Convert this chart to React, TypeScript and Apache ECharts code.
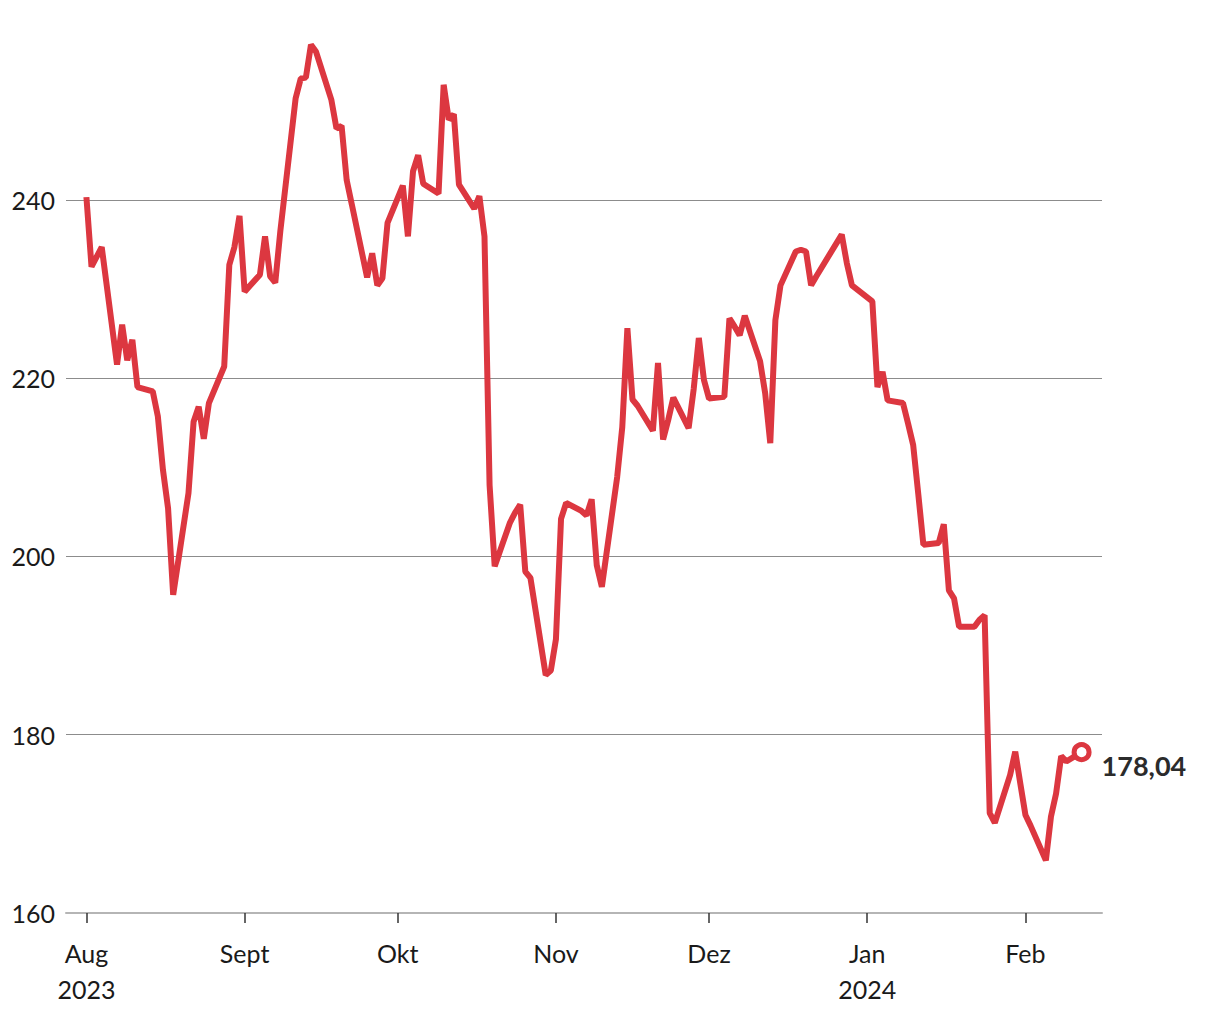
import React, { useEffect, useRef } from "react";
import * as echarts from "echarts";

const dates: string[] = [
  "2023-08-01","2023-08-02","2023-08-03","2023-08-04","2023-08-07","2023-08-08","2023-08-09","2023-08-10","2023-08-11",
  "2023-08-14","2023-08-15","2023-08-16","2023-08-17","2023-08-18","2023-08-21","2023-08-22","2023-08-23","2023-08-24","2023-08-25",
  "2023-08-28","2023-08-29","2023-08-30","2023-08-31","2023-09-01",
  "2023-09-04","2023-09-05","2023-09-06","2023-09-07","2023-09-08","2023-09-11","2023-09-12","2023-09-13","2023-09-14","2023-09-15",
  "2023-09-18","2023-09-19","2023-09-20","2023-09-21","2023-09-22","2023-09-25","2023-09-26","2023-09-27","2023-09-28","2023-09-29",
  "2023-10-02","2023-10-03","2023-10-04","2023-10-05","2023-10-06","2023-10-09","2023-10-10","2023-10-11","2023-10-12","2023-10-13",
  "2023-10-16","2023-10-17","2023-10-18","2023-10-19","2023-10-20","2023-10-23","2023-10-24","2023-10-25","2023-10-26","2023-10-27",
  "2023-10-30","2023-10-31","2023-11-01","2023-11-02","2023-11-03",
  "2023-11-06","2023-11-07","2023-11-08","2023-11-09","2023-11-10","2023-11-13","2023-11-14","2023-11-15","2023-11-16","2023-11-17",
  "2023-11-20","2023-11-21","2023-11-22","2023-11-23","2023-11-24","2023-11-27","2023-11-28","2023-11-29","2023-11-30","2023-12-01",
  "2023-12-04","2023-12-05","2023-12-06","2023-12-07","2023-12-08","2023-12-11","2023-12-12","2023-12-13","2023-12-14","2023-12-15",
  "2023-12-18","2023-12-19","2023-12-20","2023-12-21","2023-12-22","2023-12-27","2023-12-28","2023-12-29",
  "2024-01-02","2024-01-03","2024-01-04","2024-01-05","2024-01-08","2024-01-09","2024-01-10","2024-01-11","2024-01-12",
  "2024-01-15","2024-01-16","2024-01-17","2024-01-18","2024-01-19","2024-01-22","2024-01-23","2024-01-24","2024-01-25","2024-01-26",
  "2024-01-29","2024-01-30","2024-01-31","2024-02-01","2024-02-02","2024-02-05","2024-02-06","2024-02-07","2024-02-08","2024-02-09",
  "2024-02-12",
];

const prices: number[] = [
  240.3, 232.5, 233.6, 234.7, 221.5, 226.0, 222.0, 224.3, 219.0,
  218.5, 215.7, 209.7, 205.4, 195.7, 207.1, 215.1, 216.8, 213.2, 217.2,
  221.3, 232.7, 234.7, 238.2, 229.7,
  231.6, 235.9, 231.4, 230.7, 236.5, 251.4, 253.6, 253.7, 257.4, 256.6,
  251.2, 248.0, 248.3, 242.2, 239.5, 231.3, 234.0, 230.4, 231.2, 237.4,
  241.6, 235.9, 243.2, 245.0, 241.8, 240.7, 252.9, 249.0, 249.6, 241.7,
  239.0, 240.4, 235.9, 208.0, 198.9, 203.8, 204.9, 205.8, 198.3, 197.6,
  186.7, 187.2, 190.7, 204.2, 206.0,
  205.1, 204.6, 206.4, 199.0, 196.6, 208.9, 214.5, 225.6, 217.6, 216.9,
  214.1, 221.7, 213.1, 215.3, 217.8, 214.4, 218.8, 224.5, 219.8, 217.7,
  217.9, 226.7, 225.8, 224.8, 227.0, 221.9, 218.3, 212.7, 226.5, 230.4,
  234.2, 234.4, 234.2, 230.4, 231.4, 236.1, 232.9, 230.4,
  228.6, 219.0, 220.7, 217.5, 217.2, 214.9, 212.5, 207.0, 201.3,
  201.5, 203.6, 196.2, 195.3, 192.1, 192.1, 192.9, 193.4, 171.2, 170.1,
  175.5, 178.1, 174.5, 171.0, 169.8, 165.9, 170.8, 173.4, 177.6, 177.0,
  178.04,
];

const monthTicks: string[] = ["2023-08-01", "2023-09-01", "2023-10-01", "2023-11-01", "2023-12-01", "2024-01-01", "2024-02-01"];
const monthLabels: string[] = ["Aug\n2023", "Sept", "Okt", "Nov", "Dez", "Jan\n2024", "Feb"];
const yTicks: number[] = [160, 180, 200, 220, 240];

const xStart = "2023-07-28";
const xEnd = "2024-02-16";

const ts = (s: string) => Date.UTC(+s.slice(0, 4), +s.slice(5, 7) - 1, +s.slice(8, 10));

const RED = "#dc3740";
const FONT = "Lato, 'Noto Sans', sans-serif";

export default function App() {
  const ref = useRef<HTMLDivElement>(null);
  useEffect(() => {
    if (!ref.current) return;
    const chart = echarts.init(ref.current, undefined, { renderer: "svg" });
    const data = dates.map((d, i) => [ts(d), prices[i]]);
    const last = data[data.length - 1];
    const tickVals = monthTicks.map(ts);
    chart.setOption({
      animation: false,
      backgroundColor: "#fff",
      textStyle: { fontFamily: FONT },
      grid: { left: 66, right: 118, top: 21.5, bottom: 107, containLabel: false },
      xAxis: {
        type: "value",
        min: ts(xStart),
        max: ts(xEnd),
        axisLine: { show: true, lineStyle: { color: "#b5b5b5", width: 2 } },
        axisTick: {
          show: true,
          customValues: tickVals,
          length: 10,
          lineStyle: { color: "#333", width: 1.5 },
        },
        axisLabel: {
          show: true,
          customValues: tickVals,
          formatter: (v: number) => {
            const idx = tickVals.indexOf(v);
            return idx >= 0 ? monthLabels[idx] : "";
          },
          color: "#1a1a1a",
          fontSize: 25,
          fontFamily: FONT,
          lineHeight: 36,
          margin: 22,
          hideOverlap: false,
        },
        splitLine: { show: false },
      },
      yAxis: {
        type: "value",
        min: 160,
        max: 260,
        interval: 20,
        axisLine: { show: false },
        axisTick: { show: false },
        axisLabel: {
          formatter: (v: number) => (yTicks.indexOf(v) >= 0 ? String(v) : ""),
          color: "#1a1a1a",
          fontSize: 25,
          fontFamily: FONT,
          margin: 11,
        },
        splitLine: {
          show: true,
          showMinLine: false,
          showMaxLine: false,
          lineStyle: { color: "#8c8c8c", width: 1 },
        },
      },
      series: [
        {
          type: "line",
          data,
          showSymbol: false,
          symbol: "none",
          lineStyle: { color: RED, width: 6 },
          z: 2,
        },
        {
          type: "scatter",
          data: [last],
          symbol: "circle",
          symbolSize: 15,
          itemStyle: { color: "#fff", borderColor: RED, borderWidth: 5, opacity: 1 },
          label: {
            show: true,
            position: "right",
            distance: 10,
            offset: [0, 13],
            formatter: (p: any) => Number(p.value[1]).toFixed(2).replace(".", ","),
            color: "#2b2b2b",
            fontSize: 27,
            fontWeight: "bold",
            fontFamily: FONT,
            opacity: 1,
          },
          z: 3,
        },
      ],
    });
    return () => chart.dispose();
  }, []);
  return (
    <div
      ref={ref}
      style={{ position: "fixed", left: 0, top: 0, width: 1220, height: 1020, background: "#fff" }}
    />
  );
}
